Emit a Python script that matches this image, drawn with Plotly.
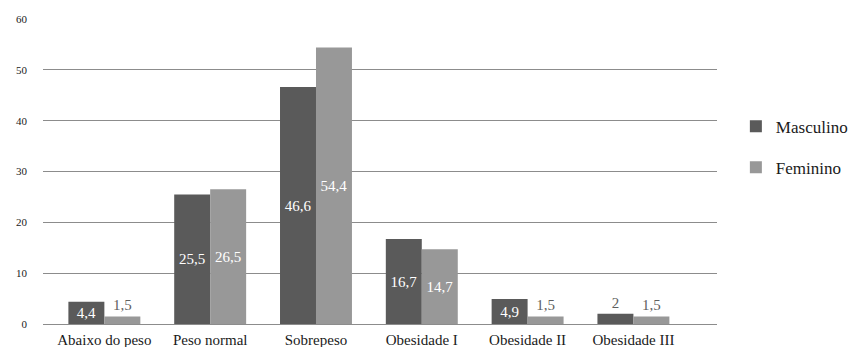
import plotly.graph_objects as go

categorias = ["Abaixo do peso", "Peso normal", "Sobrepeso", "Obesidade I", "Obesidade II", "Obesidade III"]
masculino = [4.4, 25.5, 46.6, 16.7, 4.9, 2.0]
feminino = [1.5, 26.5, 54.4, 14.7, 1.5, 1.5]
y_ticks = [0, 10, 20, 30, 40, 50, 60]

COR_MASC = "#5a5a5a"
COR_FEM = "#989898"
FONTE = "'Liberation Serif', 'Times New Roman', 'DejaVu Serif', serif"


def rotulo(v):
    return ("%g" % v).replace(".", ",")


def posicoes(vals):
    return ["outside" if v < 3 else "inside" for v in vals]


def cores_texto(vals):
    return ["#5f5f5f" if v < 3 else "#ffffff" for v in vals]


fig = go.Figure()
for nome, vals, cor, grupo in [("Masculino", masculino, COR_MASC, "m"),
                               ("Feminino", feminino, COR_FEM, "f")]:
    fig.add_trace(go.Bar(
        name=nome, x=categorias, y=vals, marker=dict(color=cor, line=dict(width=0)),
        text=[rotulo(v) for v in vals], textposition=posicoes(vals),
        insidetextanchor="middle",
        textfont=dict(family=FONTE, size=15, color=cores_texto(vals)),
        constraintext="none", cliponaxis=False, legendgroup=grupo,
    ))

fig.update_layout(
    width=852, height=347,
    margin=dict(l=43, r=135, t=19, b=23, autoexpand=False),
    paper_bgcolor="white", plot_bgcolor="white",
    barmode="group", bargap=0.32, bargroupgap=0,
    font=dict(family=FONTE, color="#222222"),
    legend=dict(x=1.028, y=0.58, xanchor="left", yanchor="middle",
                font=dict(family=FONTE, size=17, color="#1a1a1a"),
                tracegroupgap=16, bgcolor="rgba(0,0,0,0)"),
)
fig.update_xaxes(
    type="category", range=[-0.58, 5.79], showgrid=False, showline=False,
    ticks="", automargin=False, ticklabelstandoff=5,
    tickfont=dict(family=FONTE, size=15, color="#1a1a1a"),
)
fig.update_yaxes(
    range=[0, 60], tickvals=y_ticks, showgrid=True, gridcolor="#8c8c8c", gridwidth=1.3,
    zeroline=True, zerolinecolor="#8c8c8c", zerolinewidth=1.3, showline=False,
    ticks="", ticklabelstandoff=15, automargin=False,
    tickfont=dict(family=FONTE, size=11, color="#1a1a1a"),
)

fig.write_html("out.html")
